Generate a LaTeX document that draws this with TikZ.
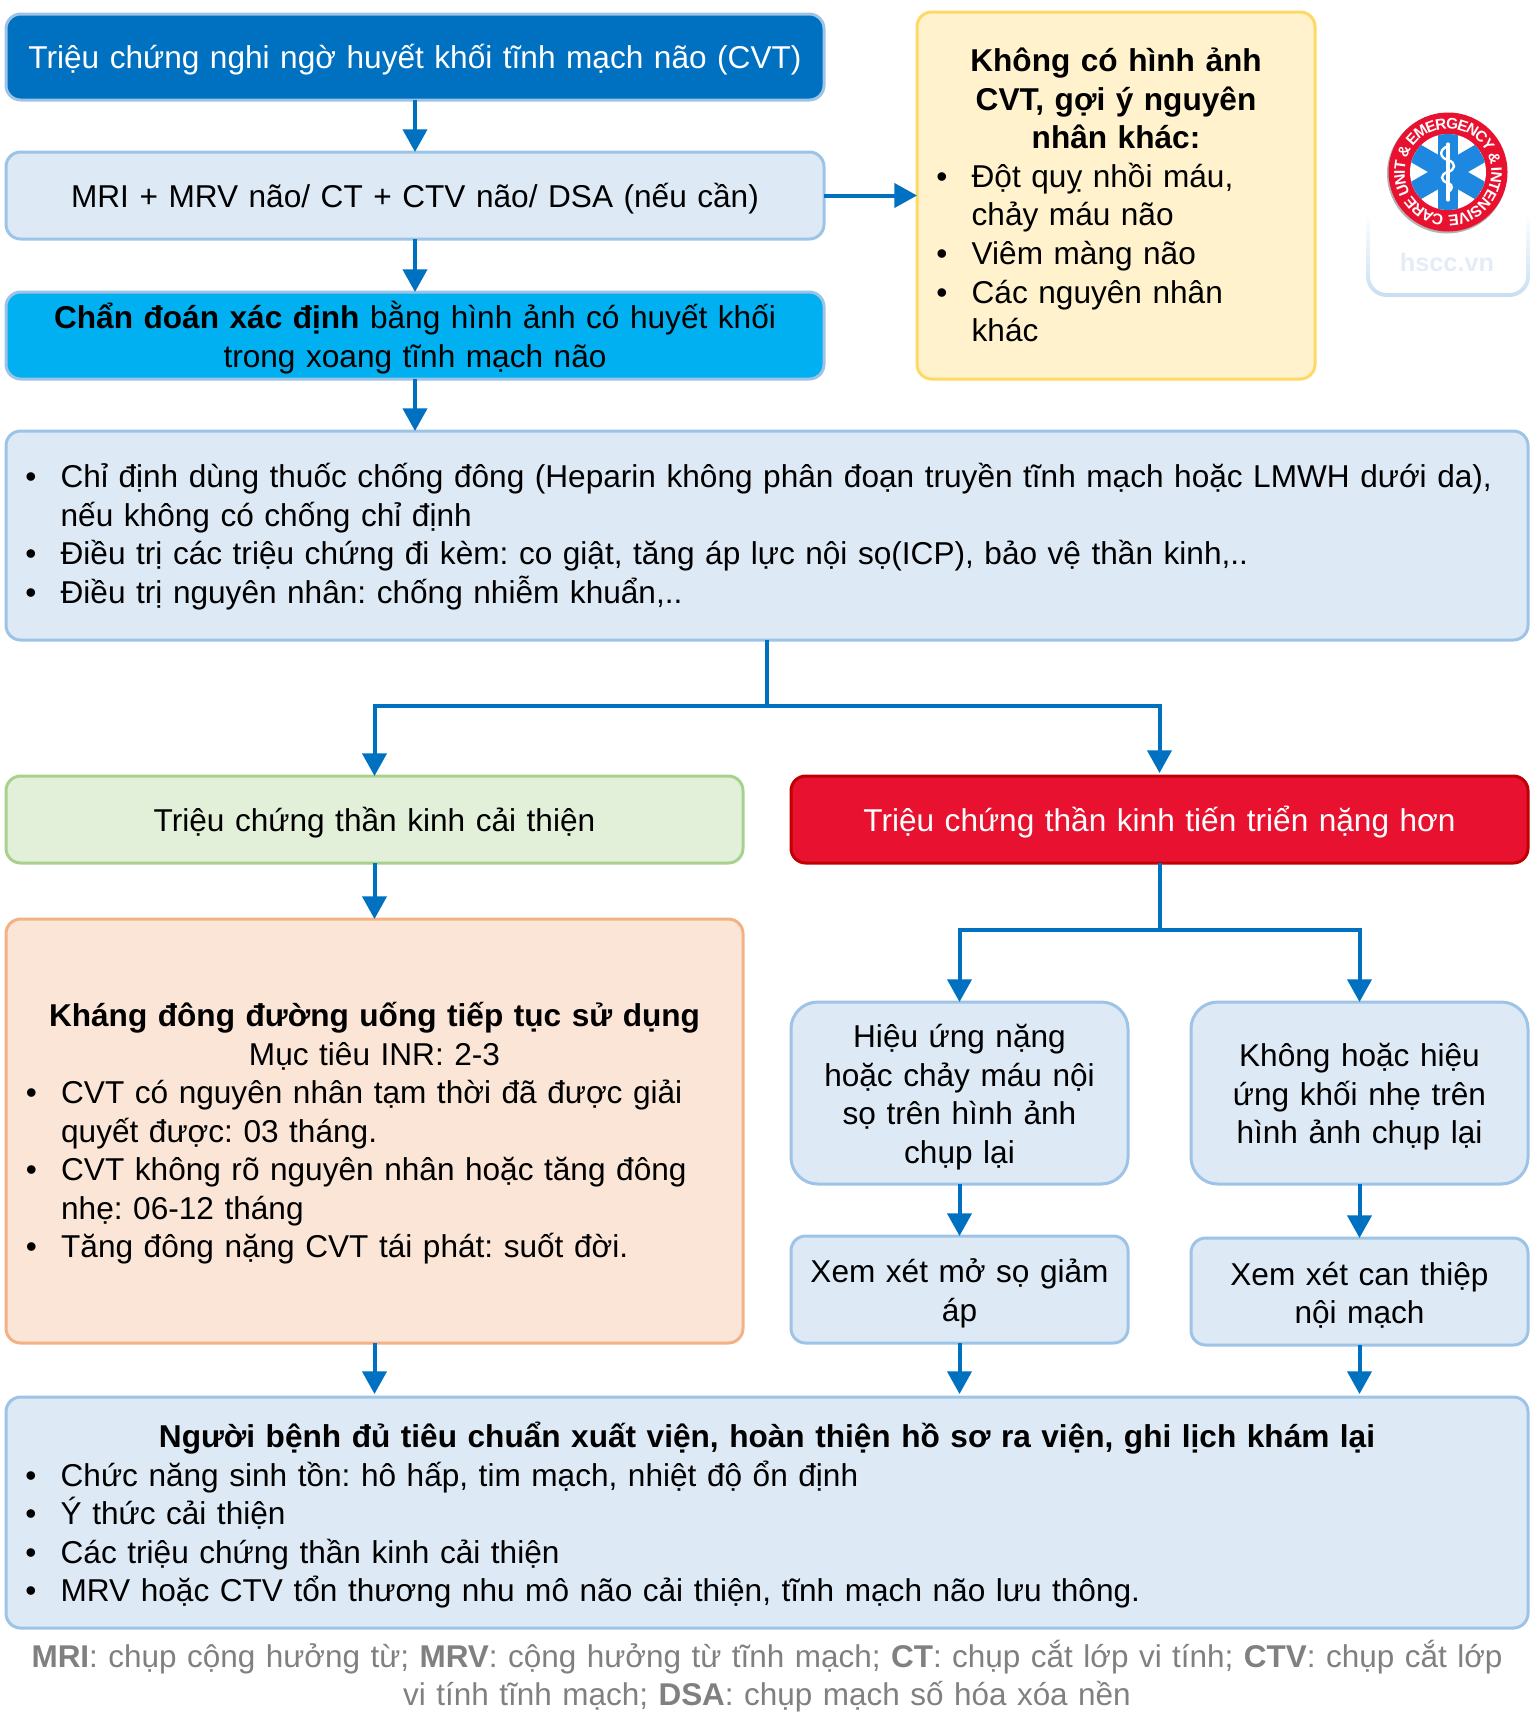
\documentclass[tikz,border=0pt]{standalone}
\usepackage{fontspec}
\setmainfont{Liberation Sans}
\usetikzlibrary{arrows.meta,fadings}
\definecolor{cBlue}{HTML}{0070C0}
\definecolor{cBord}{HTML}{9DC3E6}
\definecolor{cLight}{HTML}{DEE9F6}
\definecolor{cCyan}{HTML}{00B0F0}
\definecolor{cYelF}{HTML}{FFF2CC}
\definecolor{cYelB}{HTML}{FFD966}
\definecolor{cGrnF}{HTML}{E2EFD9}
\definecolor{cGrnB}{HTML}{A9D18E}
\definecolor{cRed}{HTML}{E8112F}
\definecolor{cRedB}{HTML}{C00000}
\definecolor{cOrF}{HTML}{FBE5D6}
\definecolor{cOrB}{HTML}{F4B183}
\definecolor{cGray}{HTML}{808080}
\definecolor{cStar}{HTML}{1E88E0}
\newlength{\bltw}\newlength{\blto}
\setlength{\bltw}{29pt}\setlength{\blto}{2.5pt}
\newcommand{\blt}{\makebox[\bltw][l]{\hspace{\blto}•}}
\newcommand{\ctr}[1]{\leavevmode\hbox to \hsize{\hfil #1\hfil}}
\tikzset{
  x=0.75pt,y=-0.75pt,
  box/.style={draw=cBord,fill=cLight,line width=2.25pt,rounded corners=11pt,inner sep=0pt,outer sep=0pt,anchor=north west,
    font=\fontsize{23.7}{28.9}\selectfont\frenchspacing,align=center,text=black,text height=23.4pt},
  lbox/.style={box,align=left},
  arr/.style={draw=cBlue,line width=3pt,-{Triangle[width=18pt,length=17pt]}},
  lin/.style={draw=cBlue,line width=3pt},
}
\newcommand{\bx}[7][]{\node[box,#1,minimum width=#4*0.75pt,minimum height=#5*0.75pt,text width=#6*0.75pt] (#2) at #3 {#7};}
\begin{document}
\begin{tikzpicture}
\useasboundingbox (0,0) rectangle (1535,1725);
\bx[fill=cBlue,text=white,text height=21.7pt]{b1}{(6,14)}{818}{86}{810}{Triệu chứng nghi ngờ huyết khối tĩnh mạch não (CVT)}
\bx{b2}{(6,152)}{818}{87}{810}{MRI + MRV não/ CT + CTV não/ DSA (nếu cần)}
\bx[fill=cCyan]{b3}{(6,292)}{818}{87}{810}{\textbf{Chẩn đoán xác định} bằng hình ảnh có huyết khối\\trong xoang tĩnh mạch não}
\bx[lbox,fill=cYelF,draw=cYelB,text height=17pt]{y}{(917,12)}{398}{367}{366}{\ctr{\textbf{Không có hình ảnh}}\\\ctr{\textbf{CVT, gợi ý nguyên}}\\\ctr{\textbf{nhân khác:}}\\\blt Đột quỵ nhồi máu,\\\hspace*{\bltw}chảy máu não\\\blt Viêm màng não\\\blt Các nguyên nhân\\\hspace*{\bltw}khác}
\bx[lbox,text height=20pt]{b4}{(6,431)}{1522}{209}{1490}{\blt Chỉ định dùng thuốc chống đông (Heparin không phân đoạn truyền tĩnh mạch hoặc LMWH dưới da),\\\hspace*{\bltw}nếu không có chống chỉ định\\\blt Điều trị các triệu chứng đi kèm: co giật, tăng áp lực nội sọ(ICP), bảo vệ thần kinh,..\\\blt Điều trị nguyên nhân: chống nhiễm khuẩn,..}
\bx[fill=cGrnF,draw=cGrnB]{gr}{(6,776)}{737}{87}{700}{Triệu chứng thần kinh cải thiện}
\bx[fill=cRed,draw=cRedB,text=white]{rd}{(791,776)}{737}{87}{700}{Triệu chứng thần kinh tiến triển nặng hơn}
\bx[lbox,fill=cOrF,draw=cOrB,text height=21.7pt]{or}{(6,919)}{737}{424}{704}{\ctr{\textbf{Kháng đông đường uống tiếp tục sử dụng}}\\\ctr{Mục tiêu INR: 2-3}\\\blt CVT có nguyên nhân tạm thời đã được giải\\\hspace*{\bltw}quyết được: 03 tháng.\\\blt CVT không rõ nguyên nhân hoặc tăng đông\\\hspace*{\bltw}nhẹ: 06-12 tháng\\\blt Tăng đông nặng CVT tái phát: suốt đời.}
\bx[rounded corners=20pt]{h1}{(791,1002)}{337}{182}{320}{Hiệu ứng nặng\\hoặc chảy máu nội\\sọ trên hình ảnh\\chụp lại}
\bx[rounded corners=20pt]{h2}{(1191,1002)}{337}{182}{320}{Không hoặc hiệu\\ứng khối nhẹ trên\\hình ảnh chụp lại}
\bx{x1}{(791,1236)}{337}{107}{320}{Xem xét mở sọ giảm\\áp}
\bx{x2}{(1191,1238)}{337}{107}{320}{Xem xét can thiệp\\nội mạch}
\bx[lbox]{bt}{(6,1397)}{1522}{231}{1490}{\ctr{\textbf{Người bệnh đủ tiêu chuẩn xuất viện, hoàn thiện hồ sơ ra viện, ghi lịch khám lại}}\\\blt Chức năng sinh tồn: hô hấp, tim mạch, nhiệt độ ổn định\\\blt Ý thức cải thiện\\\blt Các triệu chứng thần kinh cải thiện\\\blt MRV hoặc CTV tổn thương nhu mô não cải thiện, tĩnh mạch não lưu thông.}
\node[font=\fontsize{23.6}{28.9}\selectfont\frenchspacing,text=cGray,align=center,text width=1500*0.75pt,inner sep=0pt] (ft) at (767,1676) {\textbf{MRI}: chụp cộng hưởng từ; \textbf{MRV}: cộng hưởng từ tĩnh mạch; \textbf{CT}: chụp cắt lớp vi tính; \textbf{CTV}: chụp cắt lớp\\vi tính tĩnh mạch; \textbf{DSA}: chụp mạch số hóa xóa nền};
% connectors
\draw[arr] (b1) -- (b2);
\draw[arr] (b2) -- (b3);
\draw[arr] (b3.south) -- (b3.south |- b4.north);
\draw[arr] (b2.east) -- (y.west |- b2.east);
\coordinate (j1) at (b4.south |- 0,706);
\coordinate (j2) at (rd.south |- 0,930);
\draw[lin] (b4.south) -- (j1);
\draw[arr] (j1) -| (gr.north);
\draw[arr,shorten >=2.25pt] (j1) -| (rd.north);
\draw[lin] (rd.south) -- (j2);
\draw[arr] (j2) -| (h1.north);
\draw[arr] (j2) -| (h2.north);
\draw[arr] (gr.south) -- (or.north);
\draw[arr] (h1.south) -- (x1.north);
\draw[arr] (h2.south) -- (x2.north);
\draw[arr,shorten >=2.25pt] (or.south) -- (or.south |- bt.north);
\draw[arr,shorten >=2.25pt] (x1.south) -- (x1.south |- bt.north);
\draw[arr,shorten >=2.25pt] (x2.south) -- (x2.south |- bt.north);
% watermark
\draw[draw=cBord!55,line width=3pt,rounded corners=14pt,path fading=north] (1368,215) -- (1368,295) -- (1528,295) -- (1528,215);
\node[font=\fontsize{19}{24}\selectfont\bfseries,text=cLight!85!white] (wm) at (1447,262) {hscc.vn};
% logo
\begin{scope}[shift={(1448,172)},x=0.75pt,y=0.75pt]
\fill[black!30] (-1,-1.5) circle (60);
\fill[cRed] (0,0) circle (59.5);
\fill[white] (0,0) circle (38);
\begin{scope}
\clip (0,0) circle (38);
\foreach \a in {0,60,120}{\fill[cStar,rotate=\a] (-10,-38) rectangle (10,38);}
\end{scope}
\draw[white,line width=2.4pt,line cap=round] (0,28) -- (0,-28);
\draw[white,line width=1.8pt] (0,26) .. controls (-10,22) and (-8,14) .. (0,12) .. controls (9,9) and (7,2) .. (0,0) .. controls (-8,-2) and (-8,-9) .. (0,-11) .. controls (6,-13) and (4,-18) .. (0,-20);
\foreach \c/\w [remember=\nx as \cum (initially 0), count=\i] in {C/.72,A/.72,R/.72,E/.67,~/.28,U/.72,N/.72,I/.28,T/.61,~/.28,{\&}/.72,~/.28,E/.67,M/.83,E/.67,R/.72,G/.78,E/.67,N/.72,C/.72,Y/.67,~/.28,{\&}/.72,~/.28,I/.28,N/.72,T/.61,E/.67,N/.72,S/.67,I/.28,V/.67,E/.67}{
  \pgfmathsetmacro{\nx}{\cum+\w}
  \pgfmathsetmacro{\ang}{-96-17.9*(\cum+\w/2)}
  \pgfmathsetmacro{\rot}{\ang-90}
  \node[text=white,font=\fontsize{11.5}{13}\selectfont\bfseries,inner sep=0pt,rotate=\rot] (lg\i) at (\ang:48.5) {\c};
}
\end{scope}
\end{tikzpicture}
\end{document}
